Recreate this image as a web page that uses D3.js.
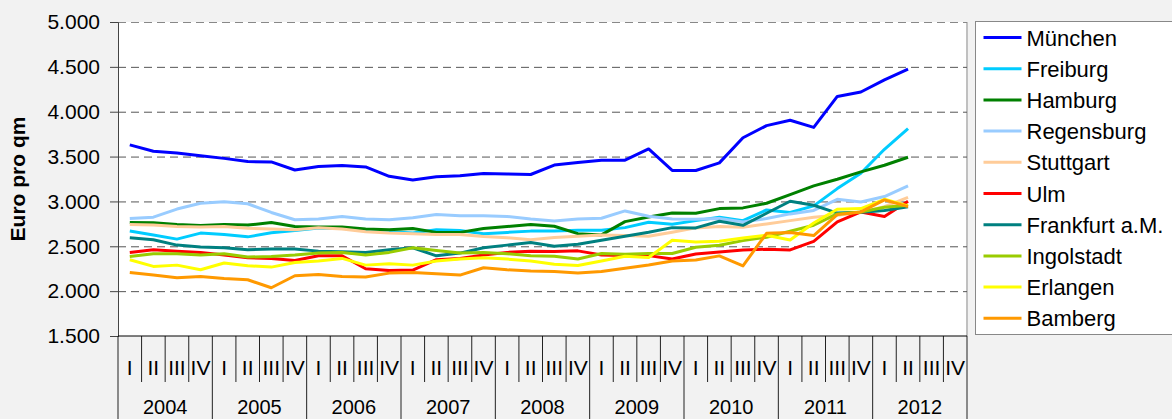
<!DOCTYPE html>
<html>
<head>
<meta charset="utf-8">
<script src="https://cdn.jsdelivr.net/npm/d3@7"></script>
<style>
  body { margin: 0; background: #f2f2f2; }
  svg { display: block; font-family: Arial, "Liberation Sans", sans-serif; }
</style>
</head>
<body>
<div id="chart"></div>
<script>
// Mietpreise (Euro pro qm), Quartale 2004 - 2012 II
const years = ["2004", "2005", "2006", "2007", "2008", "2009", "2010", "2011", "2012"]
const quarters = ["I", "II", "III", "IV"]
const yTicks = [1500, 2000, 2500, 3000, 3500, 4000, 4500, 5000]

const cities = ["München", "Freiburg", "Hamburg", "Regensburg", "Stuttgart", "Ulm",
  "Frankfurt a.M.", "Ingolstadt", "Erlangen", "Bamberg"]
const colors = ["#0000ff", "#00ccff", "#008000", "#99ccff", "#ffcc99", "#ff0000",
  "#008080", "#99cc00", "#ffff00", "#ff9900"]

const muenchen = [3630, 3560, 3540, 3510, 3480, 3445, 3440, 3350, 3390, 3400, 3385, 3280,
  3240, 3275, 3285, 3310, 3305, 3300, 3405, 3435, 3460, 3460, 3585, 3345,
  3345, 3430, 3710, 3845, 3905, 3825, 4170, 4220, 4355, 4475]
const freiburg = [2670, 2625, 2580, 2647, 2632, 2605, 2650, 2677, 2705, 2700, 2677, 2662,
  2647, 2684, 2677, 2640, 2655, 2669, 2671, 2679, 2679, 2708, 2768, 2746,
  2786, 2824, 2786, 2905, 2876, 2950, 3143, 3314, 3581, 3812]
const hamburg = [2766, 2762, 2744, 2733, 2744, 2736, 2766, 2721, 2714, 2714, 2692, 2684,
  2699, 2655, 2655, 2699, 2721, 2744, 2723, 2641, 2627, 2775, 2827, 2872,
  2868, 2920, 2928, 2980, 3076, 3173, 3247, 3329, 3403, 3492]
const regensburg = [2810, 2825, 2915, 2980, 2996, 2974, 2877, 2796, 2803, 2833, 2803, 2796,
  2818, 2855, 2840, 2840, 2833, 2803, 2783, 2805, 2812, 2894, 2835, 2805,
  2801, 2809, 2772, 2809, 2861, 2900, 3024, 2994, 3054, 3173]
const stuttgart = [2744, 2736, 2721, 2714, 2721, 2700, 2692, 2684, 2707, 2692, 2662, 2647,
  2640, 2632, 2632, 2610, 2595, 2573, 2597, 2612, 2627, 2619, 2612, 2656,
  2705, 2720, 2712, 2749, 2786, 2824, 2846, 2876, 2942, 3046]
const ulm = [2432, 2461, 2446, 2432, 2402, 2372, 2365, 2342, 2394, 2394, 2250, 2230,
  2235, 2350, 2365, 2402, 2432, 2446, 2441, 2449, 2404, 2396, 2396, 2359,
  2415, 2437, 2459, 2467, 2459, 2555, 2772, 2883, 2831, 3002]
const frankfurt = [2595, 2573, 2513, 2491, 2484, 2461, 2469, 2469, 2446, 2439, 2432, 2461,
  2484, 2394, 2424, 2484, 2513, 2543, 2500, 2523, 2567, 2612, 2656, 2708,
  2705, 2779, 2734, 2868, 3002, 2957, 2870, 2880, 2900, 2940]
const ingolstadt = [2387, 2417, 2417, 2402, 2417, 2380, 2387, 2402, 2424, 2432, 2402, 2432,
  2484, 2454, 2424, 2432, 2417, 2394, 2389, 2359, 2419, 2411, 2419, 2419,
  2489, 2511, 2563, 2601, 2668, 2735, 2861, 2883, 2935, 2957]
const erlangen = [2350, 2276, 2290, 2238, 2313, 2283, 2268, 2320, 2335, 2365, 2290, 2305,
  2290, 2335, 2357, 2372, 2357, 2335, 2300, 2285, 2337, 2389, 2375, 2567,
  2549, 2556, 2593, 2623, 2571, 2760, 2913, 2920, 3024, 2950]
const bamberg = [2209, 2179, 2149, 2164, 2142, 2127, 2038, 2172, 2186, 2164, 2157, 2201,
  2209, 2194, 2179, 2261, 2238, 2224, 2218, 2203, 2218, 2255, 2292, 2337,
  2348, 2393, 2281, 2645, 2653, 2620, 2853, 2883, 3017, 2942]

const seriesValues = [muenchen, freiburg, hamburg, regensburg, stuttgart, ulm,
  frankfurt, ingolstadt, erlangen, bamberg]

const svgWidth = 1172
const svgHeight = 419

let margin = { top: 22, right: 205, bottom: 83, left: 118 }
let width = svgWidth - margin.left - margin.right
let height = svgHeight - margin.top - margin.bottom

const periods = years.flatMap(y => quarters.map(q => y + " " + q))

let svg = d3.select("#chart")
  .append("svg")
  .attr("width", svgWidth)
  .attr("height", svgHeight)

svg.append("rect")
  .attr("width", svgWidth)
  .attr("height", svgHeight)
  .attr("fill", "#f2f2f2")

let chartGroup = svg.append("g")
  .attr("transform", `translate(${margin.left}, ${margin.top})`)

let x = d3.scaleBand().domain(periods).range([0, width]).padding(0)
let xYear = d3.scaleBand().domain(years).range([0, width]).padding(0)
let y = d3.scaleLinear().domain([1500, 5000]).range([height, 0])

const de = d3.formatLocale({ decimal: ",", thousands: ".", grouping: [3], currency: ["", " €"] })
const fmt = de.format(",.0f")

// plot area
chartGroup.append("rect")
  .attr("width", width)
  .attr("height", height)
  .attr("fill", "#fff")

chartGroup.append("line")
  .attr("x1", width).attr("x2", width)
  .attr("y1", 0).attr("y2", height)
  .attr("stroke", "#c0c0c0")
  .attr("stroke-width", 2)

// gridlines
let grid = chartGroup.append("g")
  .call(d3.axisLeft(y).tickValues(yTicks.slice(1)).tickSize(-width).tickFormat(""))
grid.select(".domain").remove()
grid.selectAll("line")
  .attr("stroke", "#555")
  .attr("stroke-dasharray", "8,5")
grid.selectAll(".tick:last-of-type line").attr("stroke", "#888")

// y axis
let yAxis = chartGroup.append("g")
  .call(d3.axisLeft(y).tickValues(yTicks).tickSize(8).tickPadding(10).tickFormat(fmt))
yAxis.select(".domain").attr("stroke", "#444")
yAxis.selectAll("line").attr("stroke", "#444")
yAxis.selectAll("text")
  .style("font-size", "21px")
  .attr("fill", "#000")

svg.append("text")
  .attr("transform", `translate(25, ${margin.top + height / 2}) rotate(-90)`)
  .attr("text-anchor", "middle")
  .style("font-size", "21px")
  .style("font-weight", "bold")
  .text("Euro pro qm")

// category axis
let xAxis = chartGroup.append("g").attr("transform", `translate(0, ${height})`)

xAxis.selectAll(".qtick")
  .data(periods.concat(["end"]))
  .enter()
  .append("line")
  .attr("x1", (d, i) => i < periods.length ? x(d) : width)
  .attr("x2", (d, i) => i < periods.length ? x(d) : width)
  .attr("y1", 0)
  .attr("y2", (d, i) => i % 4 === 0 ? svgHeight : 46)
  .attr("stroke", "#222")
  .attr("stroke-width", 1)

xAxis.selectAll(".qlabel")
  .data(periods)
  .enter()
  .append("text")
  .attr("x", d => x(d) + x.bandwidth() / 2)
  .attr("y", 39)
  .attr("text-anchor", "middle")
  .style("font-size", "21px")
  .text(d => d.split(" ")[1])

// year labels, nudged up a little so they stay inside the picture
xAxis.selectAll(".ylabel")
  .data(years)
  .enter()
  .append("text")
  .attr("x", d => xYear(d) + xYear.bandwidth() / 2)
  .attr("y", 78)
  .attr("text-anchor", "middle")
  .style("font-size", "20px")
  .text(d => d)

xAxis.append("line")
  .attr("x1", 0).attr("x2", width)
  .attr("stroke", "#000")

// lines
let line = d3.line()
  .x((d, i) => x(periods[i]) + x.bandwidth() / 2)
  .y(d => y(d))

chartGroup.selectAll(".city")
  .data(seriesValues)
  .enter()
  .append("path")
  .attr("d", d => line(d))
  .attr("fill", "none")
  .attr("stroke", (d, i) => colors[i])
  .attr("stroke-width", 3)
  .attr("stroke-linejoin", "round")

// legend
let legend = svg.append("g").attr("transform", "translate(975.5, 21.5)")
legend.append("rect")
  .attr("width", 220)
  .attr("height", 313)
  .attr("fill", "#fff")
  .attr("stroke", "#888")

let items = legend.selectAll(".item")
  .data(cities)
  .enter()
  .append("g")
  .attr("transform", (d, i) => `translate(0, ${24 + i * 31.2})`)

items.append("line")
  .attr("x1", 8).attr("x2", 46)
  .attr("y1", -8).attr("y2", -8)
  .attr("stroke", (d, i) => colors[i])
  .attr("stroke-width", 3)

items.append("text")
  .attr("x", 51)
  .style("font-size", "22px")
  .text(d => d)
</script>
</body>
</html>
